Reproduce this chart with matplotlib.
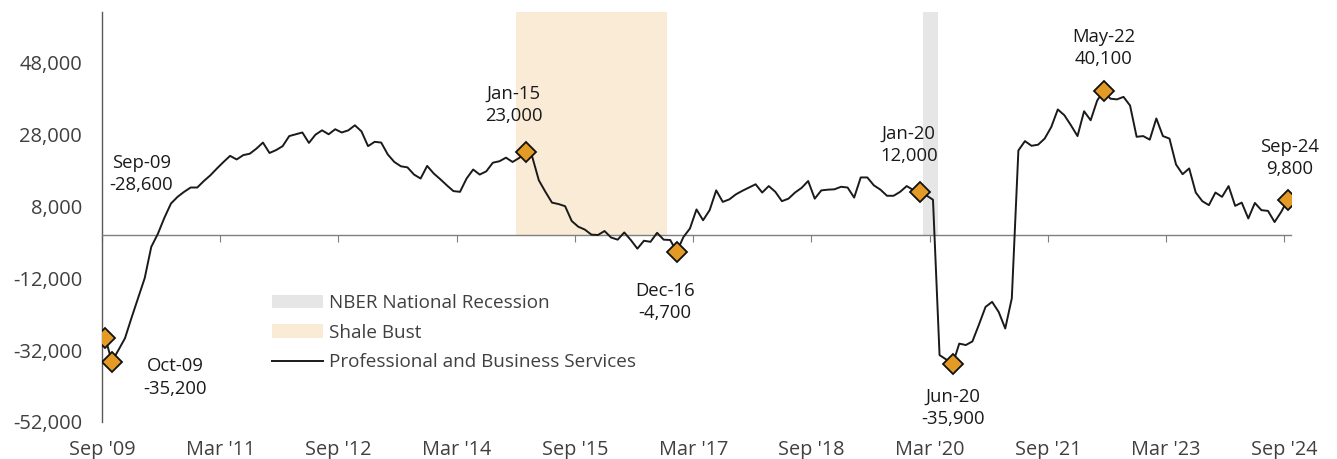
import matplotlib
matplotlib.use('Agg')
import matplotlib.pyplot as plt
import numpy as np
from matplotlib.patches import Patch
from matplotlib.lines import Line2D

# ---- data (monthly, Sep 2009 .. Sep 2024) ----
values = [
    -28600, -35200, -32000, -28700, -23000, -17500, -12000, -3300, 300, 4800,
    8750, 10600, 12000, 13200, 13200, 15000, 16600, 18500, 20300, 22000,
    21000, 22200, 22600, 24000, 25700, 22800, 23600, 24700, 27500, 28000,
    28500, 25600, 27900, 29100, 28000, 29400, 28500, 29100, 30500, 28800,
    24700, 25900, 25700, 22400, 20300, 19100, 18800, 16800, 15700, 19200,
    17100, 15500, 13800, 12200, 12000, 15700, 18200, 16800, 17700, 20100,
    20500, 21500, 20300, 21400, 23000, 21700, 15200, 12000, 9000, 8600,
    8000, 3900, 2300, 1500, 100, 0, 1100, -700, -1300, 700,
    -1400, -3800, -1600, -1900, 600, -1300, -1400, -4700, -600, 1800,
    7100, 4100, 6900, 12400, 9200, 9900, 11300, 12300, 13200, 14100,
    11800, 13600, 12000, 9400, 10100, 11800, 13100, 15000, 10100, 12400,
    12600, 12700, 13400, 13200, 10400, 16000, 16000, 13800, 12600, 10900,
    10900, 12000, 13600, 12500, 12000, 11000, 9800, -33400, -34600, -35900,
    -30200, -30600, -29600, -24900, -20000, -18600, -21400, -26000, -17600, 23500,
    26100, 24800, 25100, 26800, 30000, 34900, 33300, 30500, 27500, 34400,
    31900, 37400, 40100, 37900, 37700, 38400, 36000, 27300, 27500, 26500,
    32400, 27500, 26800, 19600, 16900, 18500, 11800, 9400, 8300, 11800,
    10600, 13600, 8100, 9000, 4600, 8900, 6900, 6700, 3600, 6400,
    9800,
]
tick_months = [0, 18, 36, 54, 72, 90, 108, 126, 144, 162, 180]
tick_labels = ["Sep '09", "Mar '11", "Sep '12", "Mar '14", "Sep '15", "Mar '17",
               "Sep '18", "Mar '20", "Sep '21", "Mar '23", "Sep '24"]
highlight_idx = [0, 1, 64, 87, 124, 129, 152, 180]
highlight_names = ["Sep-09", "Oct-09", "Jan-15", "Dec-16", "Jan-20", "Jun-20", "May-22", "Sep-24"]
shale_months = (63, 86)
recession_months = (125, 127.2)
series_name = "Professional and Business Services"
shale_name = "Shale Bust"
recession_name = "NBER National Recession"

# ---- style ----
plt.rcParams['font.family'] = ['Open Sans', 'DejaVu Sans']
W, H = 1337, 459
fig = plt.figure(figsize=(W / 100, H / 100), dpi=100)
ax = fig.add_axes([102 / W, 1 - 422 / H, (1291 - 102) / W, (422 - 12) / H])

YMIN, YMAX = -52000, 62000
ax.set_xlim(0, len(values))
ax.set_ylim(YMIN, YMAX)

shale_c = '#FAEBD7'
rec_c = '#E6E6E6'
ax.fill_between(list(shale_months), 0, YMAX, color=shale_c, lw=0, zorder=0)
ax.fill_between(list(recession_months), 0, YMAX, color=rec_c, lw=0, zorder=0)

x = np.arange(len(values)) + 0.5
ax.plot(x, values, color='#1a1a1a', lw=1.4, zorder=3)

hx = [x[i] for i in highlight_idx]
hy = [values[i] for i in highlight_idx]
ax.plot(hx, hy, ls='none', marker='D', ms=10, mfc='#E39B26', mec='#111111', mew=1.3, zorder=4)

offsets = [(36, 164), (63, -16), (-12, 47), (-12, -50), (-11, 47), (0, -44), (0, 43), (2, 42)]
for i, name, off in zip(highlight_idx, highlight_names, offsets):
    v = values[i]
    ax.annotate(f"{name}\n{v:,}", (x[i], v), xytext=off, textcoords='offset pixels',
                ha='center', va='center', fontsize=13.3, color='#1a1a1a', linespacing=1.3)

for s in ['top', 'right']:
    ax.spines[s].set_visible(False)
ax.spines['left'].set_color('#595959')
ax.spines['left'].set_linewidth(1.0)
ax.spines['bottom'].set_position(('data', 0))
ax.spines['bottom'].set_color('#7f7f7f')
ax.spines['bottom'].set_linewidth(1.0)

yt = list(range(-52000, 48001, 20000))
ax.set_yticks(yt)
ax.set_yticklabels([f"{t:,}" for t in yt])
ax.tick_params(axis='y', length=0, pad=14.4, labelsize=14.5, labelcolor='#404040')

ax.set_xticks(tick_months)
ax.tick_params(axis='x', direction='out', length=5, color='#7f7f7f', labelbottom=False)

sec = ax.secondary_xaxis('bottom')
sec.set_xticks(tick_months)
sec.set_xticklabels(tick_labels)
sec.tick_params(length=0, pad=13, labelsize=14.3, labelcolor='#404040')
sec.spines['bottom'].set_visible(False)

handles = [Patch(facecolor=rec_c, edgecolor='none', label=recession_name),
           Patch(facecolor=shale_c, edgecolor='none', label=shale_name),
           Line2D([], [], color='#1a1a1a', lw=1.4, label=series_name)]
leg = fig.legend(handles=handles, loc='upper left', bbox_to_anchor=(272 / W, 1 - 294 / H),
                 frameon=False, fontsize=13.6, handlelength=2.7, handleheight=0.7,
                 handletextpad=0.3, labelspacing=0.62, borderpad=0, borderaxespad=0)
for t in leg.get_texts():
    t.set_color('#404040')

fig.savefig('out.png', dpi=100)
